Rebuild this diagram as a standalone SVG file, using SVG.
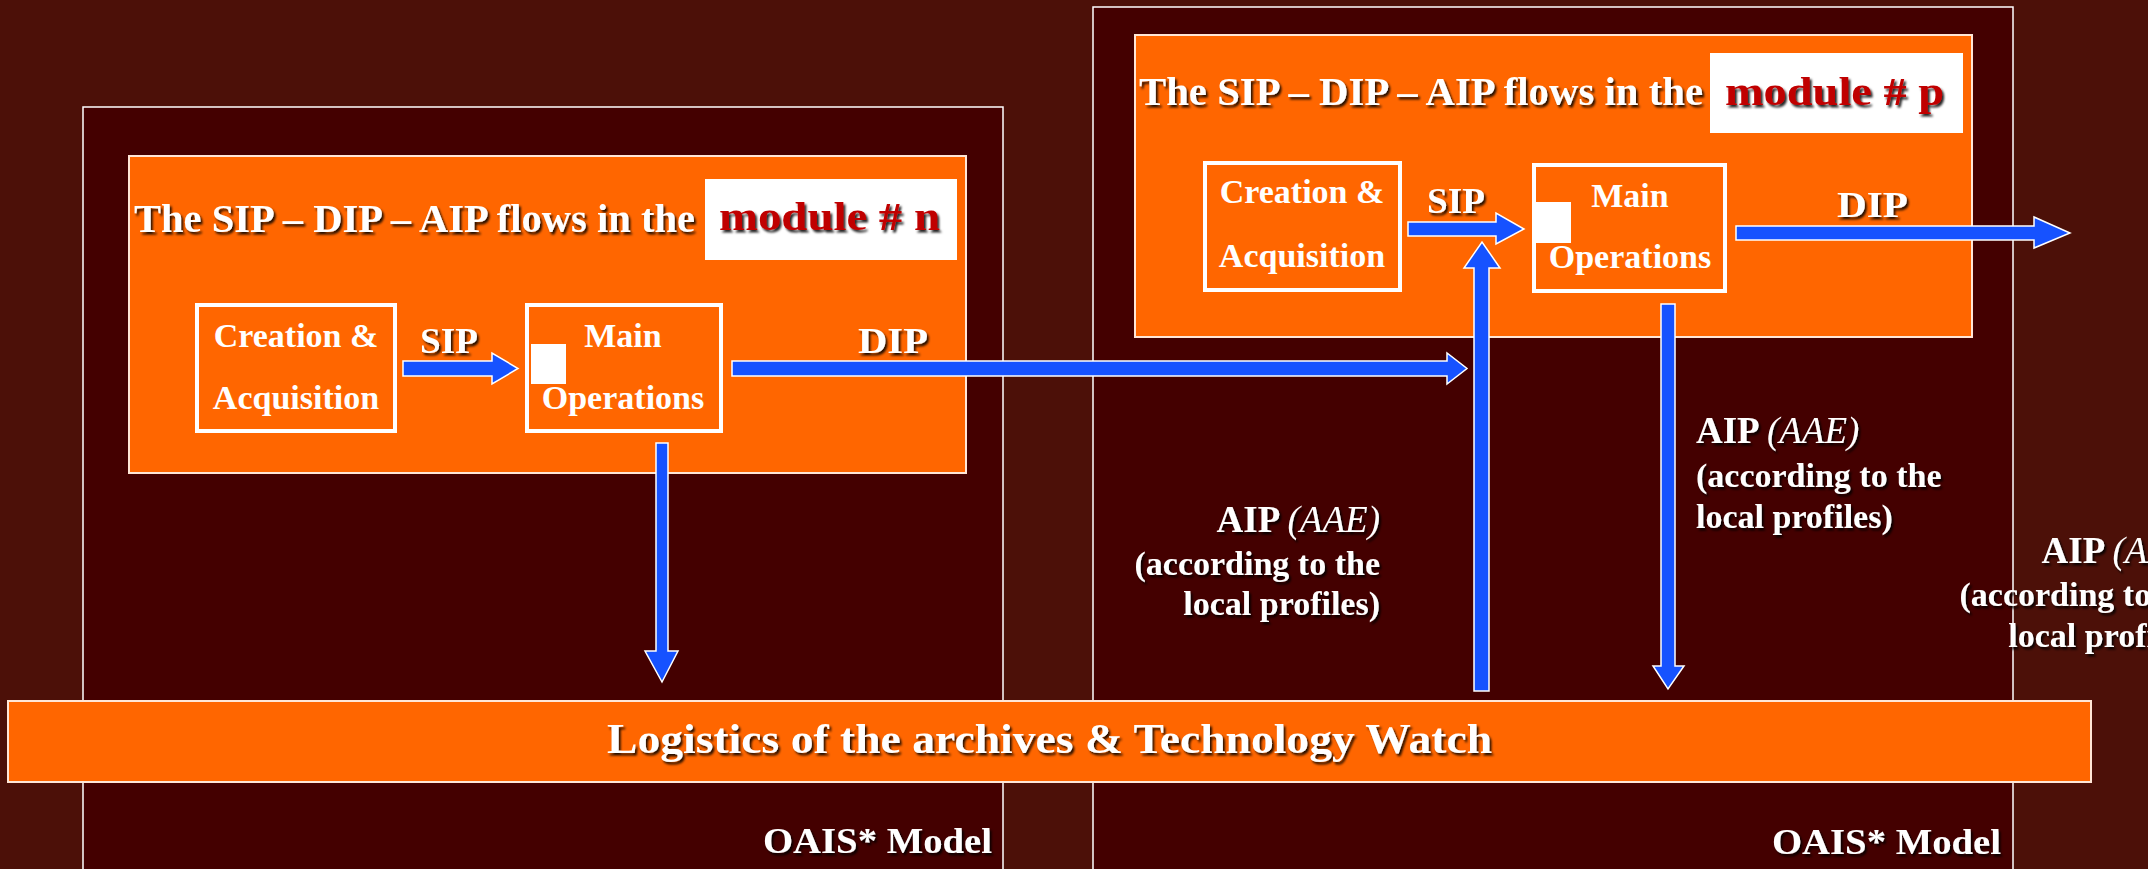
<svg xmlns="http://www.w3.org/2000/svg" width="2148" height="869" viewBox="0 0 2148 869">
  <defs>
    <filter id="shadow" x="-5%" y="-20%" width="110%" height="150%">
      <feDropShadow dx="2" dy="2.5" stdDeviation="0.8" flood-color="#000" flood-opacity="0.85"/>
    </filter>
    <style>
      .frame { fill: #440000; stroke: #ffffff; stroke-width: 1.5; }
      .panel { fill: #ff6600; stroke: #ffe6d6; stroke-width: 2; }
      .box { fill: #ff6600; stroke: #ffffff; stroke-width: 4; }
      .tag { fill: #ffffff; }
      .arrow { fill: #1652ff; stroke: #ffffff; stroke-width: 1.5; stroke-linejoin: miter; }
      text { font-family: "Liberation Serif", "Times New Roman", serif; fill: #ffffff; }
      .title { font-size: 40px; font-weight: bold; filter: url(#shadow); }
      .module { font-size: 40px; font-weight: bold; fill: #c00000; filter: url(#shadow); }
      .label { font-size: 34px; font-weight: bold; text-anchor: middle; }
      .flow { font-size: 36px; font-weight: bold; filter: url(#shadow); }
      .note { font-size: 34px; font-weight: bold; filter: url(#shadow); }
      .head { font-size: 37px; }
      .note .it { font-style: italic; font-weight: normal; }
      .band { font-size: 42px; font-weight: bold; filter: url(#shadow); }
      .model { font-size: 36px; font-weight: bold; filter: url(#shadow); }
    </style>
  </defs>

  <!-- background -->
  <rect x="0" y="0" width="2148" height="869" fill="#4c1008"/>

  <!-- OAIS frames -->
  <g id="frame-n">
    <rect class="frame" x="83" y="107" width="920" height="800"/>
  </g>
  <g id="frame-p">
    <rect class="frame" x="1093" y="7" width="920" height="900"/>
  </g>

  <!-- module n -->
  <g id="module-n">
    <rect class="panel" x="129" y="156" width="837" height="317"/>
    <text class="title" x="134" y="232" textLength="561" lengthAdjust="spacingAndGlyphs">The SIP – DIP – AIP flows in the</text>
    <rect class="tag" x="705" y="179" width="252" height="81"/>
    <text class="module" x="719" y="230" textLength="221" lengthAdjust="spacingAndGlyphs">module # n</text>
  </g>
  <g id="creation-n">
    <rect class="box" x="197" y="305" width="198" height="126"/>
    <text class="label" x="296" y="347">Creation &amp;</text>
    <text class="label" x="296" y="409">Acquisition</text>
  </g>
  <g id="operations-n">
    <rect class="box" x="527" y="305" width="194" height="126"/>
    <rect class="tag" x="531" y="344" width="35" height="40"/>
    <text class="label" x="623" y="347">Main</text>
    <text class="label" x="623" y="409">Operations</text>
  </g>

  <!-- module p -->
  <g id="module-p">
    <rect class="panel" x="1135" y="35" width="837" height="302"/>
    <text class="title" x="1139" y="105" textLength="564" lengthAdjust="spacingAndGlyphs">The SIP – DIP – AIP flows in the</text>
    <rect class="tag" x="1710" y="53" width="253" height="80"/>
    <text class="module" x="1725" y="105" textLength="219" lengthAdjust="spacingAndGlyphs">module # p</text>
  </g>
  <g id="creation-p">
    <rect class="box" x="1205" y="163" width="195" height="127"/>
    <text class="label" x="1302" y="203">Creation &amp;</text>
    <text class="label" x="1302" y="267">Acquisition</text>
  </g>
  <g id="operations-p">
    <rect class="box" x="1534" y="165" width="191" height="126"/>
    <rect class="tag" x="1534" y="202" width="37" height="41"/>
    <text class="label" x="1630" y="207">Main</text>
    <text class="label" x="1630" y="268">Operations</text>
  </g>

  <!-- logistics band -->
  <g id="logistics">
    <rect class="panel" x="8" y="701" width="2083" height="81"/>
    <text class="band" x="607" y="753" textLength="885" lengthAdjust="spacingAndGlyphs">Logistics of the archives &amp; Technology Watch</text>
  </g>

  <!-- connectors -->
  <g id="connectors">
    <!-- SIP, module n -->
    <polygon class="arrow" points="403,361 492,361 492,353 518,368.5 492,384 492,376 403,376"/>
    <!-- DIP, module n to module p -->
    <polygon class="arrow" points="732,361 1447,361 1447,353 1467,368.5 1447,384 1447,376 732,376"/>
    <!-- AIP down, module n -->
    <polygon class="arrow" points="656,443 668,443 668,651 678,651 662,682 645,651 656,651"/>
    <!-- SIP, module p -->
    <polygon class="arrow" points="1408,222 1496,222 1496,213 1524,229 1496,244 1496,236 1408,236"/>
    <!-- DIP, module p -->
    <polygon class="arrow" points="1736,226 2034,226 2034,217 2070,233 2034,248 2034,240 1736,240"/>
    <!-- AIP up into module p -->
    <polygon class="arrow" points="1474,691 1474,268 1464,268 1482,242 1500,268 1489,268 1489,691"/>
    <!-- AIP down, module p -->
    <polygon class="arrow" points="1661,304 1675,304 1675,666 1684,666 1668,689 1653,666 1661,666"/>

    <text class="flow" x="420" y="353" textLength="58" lengthAdjust="spacingAndGlyphs">SIP</text>
    <text class="flow" x="858" y="353" textLength="70" lengthAdjust="spacingAndGlyphs">DIP</text>
    <text class="flow" x="1427" y="213" textLength="58" lengthAdjust="spacingAndGlyphs">SIP</text>
    <text class="flow" x="1837" y="217" textLength="71" lengthAdjust="spacingAndGlyphs">DIP</text>
  </g>

  <!-- AIP notes (the third block runs past the right edge) -->
  <g id="aip-up">
    <text class="note head" x="1380" y="532" text-anchor="end">AIP <tspan class="it">(AAE)</tspan></text>
    <text class="note" x="1380" y="575" text-anchor="end">(according to the</text>
    <text class="note" x="1380" y="615" text-anchor="end">local profiles)</text>
  </g>
  <g id="aip-down">
    <text class="note head" x="1696" y="443">AIP <tspan class="it">(AAE)</tspan></text>
    <text class="note" x="1696" y="487">(according to the</text>
    <text class="note" x="1696" y="528">local profiles)</text>
  </g>
  <g id="aip-next">
    <text class="note head" x="2205" y="563" text-anchor="end">AIP <tspan class="it">(AAE)</tspan></text>
    <text class="note" x="2205" y="606" text-anchor="end">(according to the</text>
    <text class="note" x="2205" y="647" text-anchor="end">local profiles)</text>
  </g>

  <!-- model captions -->
  <g id="caption-n">
    <text class="model" x="763" y="853" textLength="229" lengthAdjust="spacingAndGlyphs">OAIS* Model</text>
  </g>
  <g id="caption-p">
    <text class="model" x="1772" y="854" textLength="229" lengthAdjust="spacingAndGlyphs">OAIS* Model</text>
  </g>
</svg>
